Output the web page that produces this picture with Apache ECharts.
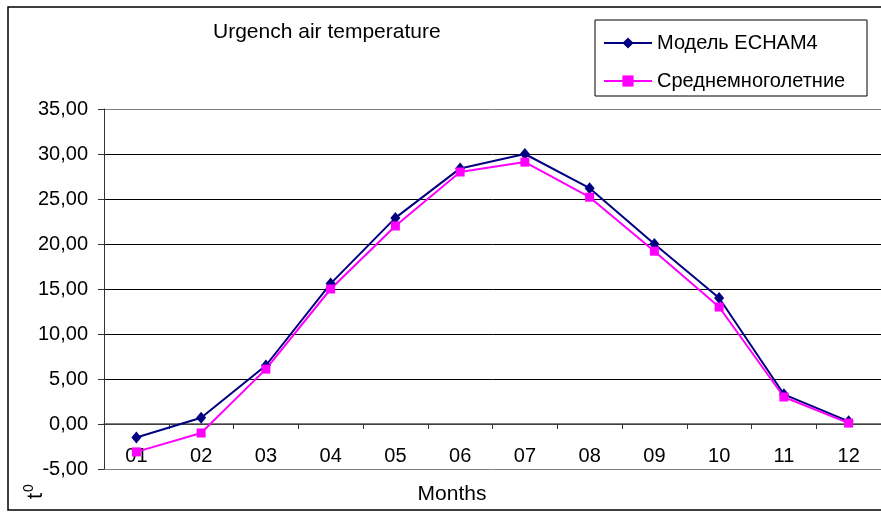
<!DOCTYPE html>
<html>
<head>
<meta charset="utf-8">
<style>
  html, body { margin: 0; padding: 0; background: #fff; }
  #chart { width: 881px; height: 512px; }
</style>
<script src="https://cdn.jsdelivr.net/npm/echarts@6/dist/echarts.min.js"></script>
</head>
<body>
<div id="chart"></div>
<script>
// Monthly air temperature, Urgench
const months = ['01', '02', '03', '04', '05', '06', '07', '08', '09', '10', '11', '12'];
const echam4 = [-1.5, 0.7, 6.5, 15.6, 22.9, 28.4, 30.0, 26.2, 20.0, 14.0, 3.3, 0.3];
const longTermMean = [-3.1, -1.0, 6.1, 15.0, 22.0, 28.0, 29.1, 25.2, 19.2, 13.0, 3.0, 0.1];
const seriesNames = ['Модель ECHAM4', 'Среднемноголетние'];

const FONT = '"Liberation Sans", Arial, sans-serif';

const chart = echarts.init(document.getElementById('chart'), null, { renderer: 'canvas' });

// gridline colours: the outer lines (-5 and 35) are the grey plot-area frame
const splitColors = ['#808080', '#000', '#000', '#000', '#000', '#000', '#000', '#000', '#808080'];

chart.setOption({
  animation: false,
  backgroundColor: '#fff',
  textStyle: { fontFamily: FONT },
  grid: { left: 104, top: 109, width: 781, height: 360, containLabel: false },
  legend: {
    orient: 'vertical',
    left: 603,
    top: 33,
    padding: 0,
    itemWidth: 48,
    itemHeight: 14,
    itemGap: 18,
    textStyle: { fontFamily: FONT, fontSize: 20, color: '#000' },
    data: seriesNames
  },
  xAxis: {
    type: 'category',
    data: months,
    boundaryGap: true,
    axisLine: { onZero: true, lineStyle: { color: '#555', width: 1.5 } },
    axisTick: { show: true, length: 5, lineStyle: { color: '#333' } },
    // labels sit just under the zero line, inside the plot
    axisLabel: { fontFamily: FONT, fontSize: 20, color: '#000', margin: -23 },
    splitLine: { show: false }
  },
  yAxis: {
    type: 'value',
    min: -5,
    max: 35,
    interval: 5,
    axisLine: { show: true, lineStyle: { color: '#333', width: 1 } },
    axisTick: { show: true, length: 6, lineStyle: { color: '#333' } },
    axisLabel: {
      fontFamily: FONT, fontSize: 20, color: '#000', margin: 16,
      formatter: v => v.toFixed(2).replace('.', ',')
    },
    splitLine: { show: true, lineStyle: { color: splitColors, width: 1 } }
  },
  series: [
    {
      name: seriesNames[0],
      type: 'line',
      data: echam4,
      symbol: 'diamond',
      symbolSize: [10, 12],
      itemStyle: { color: '#000080' },
      lineStyle: { color: '#000080', width: 2 }
    },
    {
      name: seriesNames[1],
      type: 'line',
      data: longTermMean,
      symbol: 'rect',
      symbolSize: 9,
      itemStyle: { color: '#FF00FF' },
      lineStyle: { color: '#FF00FF', width: 2 }
    }
  ],
  graphic: [
    {
      type: 'rect',
      shape: { x: 8, y: 7, width: 900, height: 503 },
      style: { fill: 'none', stroke: '#000', lineWidth: 1.5 },
      silent: true, z: -10
    },
    {
      type: 'rect',
      shape: { x: 595, y: 20, width: 272, height: 76 },
      style: { fill: '#fff', stroke: '#000', lineWidth: 1 },
      silent: true, z: -1
    },
    {
      type: 'text',
      x: 213,
      y: 32,
      style: {
        text: 'Urgench air temperature', fontFamily: FONT, fontSize: 21, fill: '#000',
        align: 'left', verticalAlign: 'middle'
      }
    },
    {
      type: 'text',
      x: 452,
      y: 494,
      style: {
        text: 'Months', fontFamily: FONT, fontSize: 21, fill: '#000',
        align: 'center', verticalAlign: 'middle'
      }
    },
    // y-axis unit: "t" with a raised "0", written bottom-to-top
    {
      type: 'text',
      x: 36,
      y: 496,
      rotation: Math.PI / 2,
      style: {
        text: 't', fontFamily: FONT, fontSize: 22, fill: '#000',
        align: 'center', verticalAlign: 'middle'
      }
    },
    {
      type: 'text',
      x: 29,
      y: 488,
      rotation: Math.PI / 2,
      style: {
        text: '0', fontFamily: FONT, fontSize: 14, fill: '#000',
        align: 'center', verticalAlign: 'middle'
      }
    }
  ]
});
</script>
</body>
</html>
